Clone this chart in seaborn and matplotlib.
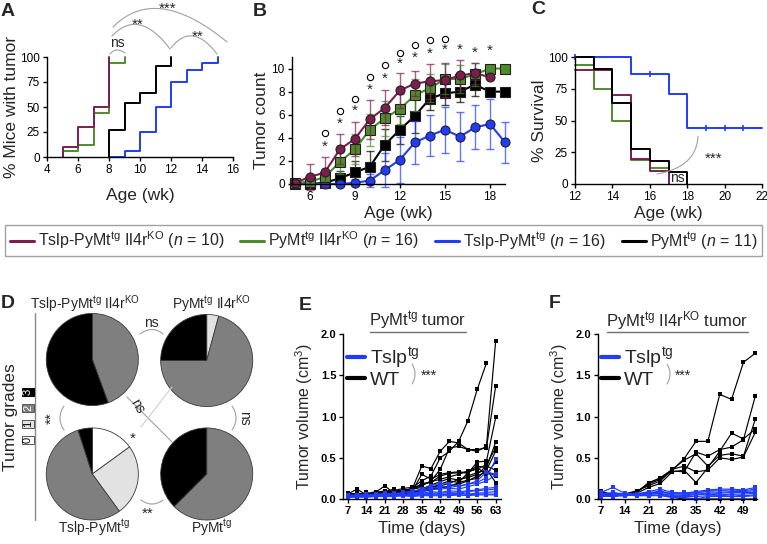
import numpy as np
import pandas as pd
import matplotlib
matplotlib.use("Agg")
import matplotlib.pyplot as plt
import seaborn as sns
from matplotlib.lines import Line2D

W, H = 767, 544

MAROON = "#7e1e4e"
GREEN = "#4d8c2a"
BLUE = "#1f3cff"
BLACK = "#000000"

# ---------------- data ----------------
# A: % mice with tumor (step curves)
a_x = {
    "maroon": [5, 5, 6, 7, 8],
    "green": [5, 5, 6, 7, 8, 9],
    "black": [8, 8, 9, 10, 11, 12],
    "blue": [8, 9, 10, 11, 12, 13, 14, 15],
}
a_y = {
    "maroon": [0, 10, 30, 50, 100],
    "green": [0, 6.25, 12.5, 43.75, 93.75, 100],
    "black": [0, 27.3, 54.5, 63.6, 90.9, 100],
    "blue": [0, 6.25, 25, 50, 75, 87.5, 93.75, 100],
}

# B: tumor count (mean +/- sem)
b_age = [5, 6, 7, 8, 9, 10, 11, 12, 13, 14, 15, 16, 17, 18, 19]
b_maroon = [0.1, 0.6, 1.0, 3.0, 3.9, 5.6, 6.6, 8.1, 8.7, 8.9, 9.0, 9.4, 9.6, 9.25, np.nan]
b_maroon_err = [np.nan, 1.1, 1.3, 1.3, 1.5, 1.7, 1.5, 1.5, 1.1, 1.5, 1.5, 1.3, 0.9, np.nan, np.nan]
b_green = [0.1, 0.2, 0.6, 1.9, 3.0, 4.7, 5.7, 6.5, 7.7, 8.3, 9.1, 9.1, 9.5, 10.0, 10.0]
b_green_err = [np.nan, 0.3, 0.6, 1.0, 1.3, 1.4, 1.5, 1.3, 1.4, 1.2, 1.3, 1.2, 1.0, np.nan, np.nan]
b_black = [0.0, 0.0, 0.1, 0.5, 1.0, 1.5, 3.4, 4.7, 5.9, 7.4, 7.85, 8.0, 8.6, 8.0, 8.0]
b_black_err = [np.nan, np.nan, 0.3, 0.6, 1.0, 1.4, 1.4, 1.2, 1.5, 1.0, 1.0, 0.9, 1.0, np.nan, np.nan]
b_blue = [0.0, 0.0, 0.0, 0.0, 0.1, 0.3, 1.2, 2.1, 3.6, 4.2, 4.7, 4.1, 4.9, 5.2, 3.6]
b_blue_err = [np.nan, np.nan, np.nan, np.nan, 0.3, 0.6, 1.5, 2.0, 1.9, 1.8, 2.0, 2.1, 1.9, 2.2, 1.8]
star_age = [7, 8, 9, 10, 11, 12, 13, 14, 15, 16, 17, 18]
star_y = [3.2, 5.2, 6.3, 8.2, 9.1, 10.4, 10.95, 11.3, 11.6, 11.6, 11.4, 11.5]
circ_age = [7, 8, 9, 10, 11, 12, 13, 14, 15]
circ_y = [4.4, 6.3, 7.4, 9.3, 10.3, 11.35, 12.0, 12.5, 12.6]

# C: survival (Kaplan-Meier steps)
c_x = {
    "maroon": [12, 14, 15, 16, 17],
    "green": [12, 13, 14, 15, 16, 17],
    "black": [12, 13, 14, 15, 16, 17, 18],
    "blue": [12, 15, 17, 18, 22],
}
c_y = {
    "maroon": [90, 70, 20, 10, 0],
    "green": [93.75, 75, 50, 18.75, 12.5, 0],
    "black": [100, 90.9, 63.6, 27.3, 18.2, 9.1, 0],
    "blue": [100, 86.7, 70.9, 44.4, 44.4],
}
c_censor_x = [12, 16, 19, 20, 21]
c_censor_y = [100, 86.7, 44.4, 44.4, 44.4]

# D: tumor grade fractions (grades 0,1,2,3)
pie_names = ["tslp_il4r", "pymt_il4r", "tslp", "pymt"]
pie_fracs = {
    "tslp_il4r": [0, 0, 44.4, 55.6],
    "pymt_il4r": [0, 4.2, 70.8, 25.0],
    "tslp": [15, 25, 55, 5],
    "pymt": [0, 0, 62.5, 37.5],
}
grade_colors = ["#ffffff", "#e2e2e2", "#7f7f7f", "#000000"]

# E: PyMt tumor volumes
days_e = [7, 10.5, 14, 17.5, 21, 24.5, 28, 31.5, 35, 38.5, 42, 45.5, 49, 52.5, 56, 59.5, 63]
wt_e = [
    [0.06, 0.12, 0.05, 0.08, 0.16, 0.07, 0.10, 0.13, 0.40, 0.37, 0.58, 0.70, 0.68, 0.60, 0.58, 0.64, 1.92],
    [0.04, 0.05, 0.06, 0.09, 0.08, 0.10, 0.13, 0.14, 0.22, 0.28, 0.50, 0.58, 0.70, 0.95, 1.33, 1.65, np.nan],
    [0.05, 0.04, 0.07, 0.06, 0.09, 0.12, 0.08, 0.12, 0.16, 0.22, 0.36, 0.62, 0.64, 0.60, 0.60, 0.62, 1.37],
    [0.07, 0.06, 0.05, 0.07, 0.10, 0.06, 0.12, 0.10, 0.30, 0.24, 0.30, 0.32, 0.33, 0.31, 0.45, 0.46, 0.99],
    [0.03, 0.05, 0.04, 0.06, 0.07, 0.08, 0.09, 0.11, 0.19, 0.20, 0.28, 0.31, 0.32, 0.33, 0.40, 0.38, 0.69],
    [0.05, 0.07, 0.06, 0.08, 0.06, 0.09, 0.07, 0.14, 0.17, 0.21, 0.24, 0.27, 0.30, 0.34, 0.36, 0.42, 0.62],
    [0.06, 0.04, 0.08, 0.05, 0.08, 0.07, 0.11, 0.09, 0.12, 0.17, 0.21, 0.25, 0.23, 0.28, 0.32, 0.35, 0.58],
    [0.04, 0.06, 0.05, 0.07, 0.09, 0.05, 0.08, 0.12, 0.14, 0.13, 0.18, 0.22, 0.20, 0.32, 0.38, 0.30, 0.45],
    [0.05, 0.03, 0.06, 0.04, 0.06, 0.07, 0.06, 0.09, 0.10, 0.15, 0.16, 0.19, 0.24, 0.26, 0.30, 0.40, 0.35],
    [0.03, 0.05, 0.04, 0.06, 0.05, 0.06, 0.08, 0.07, 0.09, 0.11, 0.13, 0.16, 0.18, 0.22, 0.28, 0.33, 0.28],
    [0.04, 0.06, 0.03, 0.05, 0.07, 0.05, 0.07, 0.08, 0.11, 0.12, 0.14, 0.15, 0.20, 0.23, 0.25, 0.36, 0.20],
]
tslp_e = [
    [0.05, 0.04, 0.06, 0.05, 0.07, 0.06, 0.08, 0.09, 0.12, 0.16, 0.19, 0.18, 0.15, 0.18, 0.20, 0.26, 0.48],
    [0.04, 0.05, 0.05, 0.06, 0.06, 0.07, 0.07, 0.10, 0.11, 0.13, 0.15, 0.14, 0.16, 0.18, 0.22, 0.33, 0.30],
    [0.03, 0.04, 0.05, 0.04, 0.06, 0.05, 0.08, 0.07, 0.09, 0.12, 0.12, 0.13, 0.12, 0.15, 0.18, 0.22, 0.29],
    [0.04, 0.03, 0.04, 0.05, 0.05, 0.06, 0.05, 0.06, 0.07, 0.09, 0.08, 0.10, 0.09, 0.10, 0.11, 0.13, 0.14],
    [0.03, 0.04, 0.03, 0.04, 0.05, 0.04, 0.05, 0.05, 0.06, 0.07, 0.07, 0.08, 0.07, 0.09, 0.10, 0.11, 0.12],
    [0.02, 0.03, 0.04, 0.03, 0.04, 0.05, 0.04, 0.05, 0.05, 0.06, 0.06, 0.06, 0.07, 0.06, 0.07, 0.08, 0.09],
    [0.03, 0.02, 0.03, 0.04, 0.03, 0.04, 0.04, 0.04, 0.05, 0.05, 0.05, 0.06, 0.05, 0.05, 0.06, 0.06, 0.06],
    [0.02, 0.03, 0.02, 0.03, 0.03, 0.03, 0.04, 0.03, 0.04, 0.04, 0.04, 0.04, 0.05, 0.04, 0.05, 0.05, 0.05],
]

# F: PyMt Il4rKO tumor volumes
days_f = [7, 10.5, 14, 17.5, 21, 24.5, 28, 31.5, 35, 38.5, 42, 45.5, 49, 52.5]
wt_f = [
    [0.10, 0.04, 0.06, 0.08, 0.20, 0.25, 0.35, 0.49, 0.70, 0.70, 1.27, 1.21, 1.66, 1.77],
    [0.06, 0.05, 0.05, 0.09, 0.18, 0.24, 0.34, 0.33, 0.57, 0.52, 0.60, 0.63, 0.72, 1.25],
    [0.04, 0.03, 0.06, 0.10, 0.16, 0.22, 0.36, 0.47, 0.55, 0.40, 0.53, 0.55, 0.52, 0.97],
    [0.05, 0.04, 0.05, 0.07, 0.14, 0.19, 0.33, 0.35, 0.20, 0.38, 0.58, 0.80, 0.73, 0.85],
    [0.08, 0.06, 0.05, 0.08, 0.19, 0.26, 0.36, 0.40, 0.33, 0.35, 0.50, 0.48, 0.51, 0.81],
    [0.07, 0.05, 0.04, 0.05, 0.08, 0.06, 0.02, 0.0, 0.0, 0.0, 0.0, 0.0, 0.0, 0.0],
]
tslp_f = [
    [0.08, 0.14, 0.07, 0.06, 0.09, 0.12, 0.08, 0.07, 0.09, 0.11, 0.12, 0.12, 0.11, 0.14],
    [0.06, 0.08, 0.06, 0.05, 0.07, 0.10, 0.06, 0.08, 0.07, 0.10, 0.10, 0.11, 0.10, 0.12],
    [0.05, 0.07, 0.05, 0.06, 0.08, 0.08, 0.07, 0.06, 0.08, 0.09, 0.08, 0.09, 0.09, 0.10],
    [0.04, 0.05, 0.04, 0.05, 0.06, 0.09, 0.05, 0.05, 0.06, 0.07, 0.07, 0.08, 0.08, 0.08],
    [0.07, 0.06, 0.05, 0.04, 0.05, 0.07, 0.04, 0.04, 0.05, 0.06, 0.05, 0.06, 0.06, 0.07],
    [0.03, 0.04, 0.05, 0.04, 0.04, 0.05, 0.03, 0.03, 0.03, 0.04, 0.04, 0.05, 0.04, 0.05],
    [0.05, 0.03, 0.04, 0.05, 0.04, 0.04, 0.02, 0.02, 0.0, 0.03, 0.03, 0.03, 0.03, 0.04],
]

colors = {"maroon": MAROON, "green": GREEN, "blue": BLUE, "black": BLACK}

# ---------------- style ----------------
sns.set_theme(style="ticks")
plt.rcParams["font.family"] = ["Liberation Sans", "DejaVu Sans"]
plt.rcParams["mathtext.fontset"] = "custom"
plt.rcParams["mathtext.rm"] = "Liberation Sans"
plt.rcParams["mathtext.it"] = "Liberation Sans:italic"
plt.rcParams["mathtext.bf"] = "Liberation Sans:bold"
plt.rcParams["axes.linewidth"] = 1.0

fig = plt.figure(figsize=(W / 100, H / 100), dpi=100)
fig.patch.set_facecolor("white")


def fx(x):
    return x / W


def fy(y):
    return 1 - y / H


def add_ax(l, t, r, b):
    return fig.add_axes([l / W, 1 - b / H, (r - l) / W, (b - t) / H])


def style_ax(ax, size=8.5, bold=False):
    sns.despine(ax=ax)
    for s in ["left", "bottom"]:
        ax.spines[s].set_color("black")
    ax.tick_params(direction="out", length=3, width=1, color="black",
                   labelsize=size, pad=2, labelcolor="black")
    if bold:
        for lab in ax.get_xticklabels() + ax.get_yticklabels():
            lab.set_fontweight("bold")


def ftext(x, y, s, **kw):
    kw.setdefault("ha", "center")
    kw.setdefault("va", "center")
    fig.text(fx(x), fy(y), s, **kw)


def arc(p0, peak, p2, color="#a0a0a0", lw=0.8):
    p0, peak, p2 = np.array(p0, float), np.array(peak, float), np.array(p2, float)
    ctrl = 2 * peak - 0.5 * (p0 + p2)
    t = np.linspace(0, 1, 40)[:, None]
    pts = (1 - t) ** 2 * p0 + 2 * (1 - t) * t * ctrl + t ** 2 * p2
    fig.add_artist(Line2D(pts[:, 0] / W, 1 - pts[:, 1] / H, transform=fig.transFigure,
                          color=color, lw=lw))


def fline(x0, y0, x1, y1, color="#a0a0a0", lw=0.8):
    fig.add_artist(Line2D([fx(x0), fx(x1)], [fy(y0), fy(y1)], transform=fig.transFigure,
                          color=color, lw=lw))


def step_df(xs, ys, order):
    rows = []
    for g in order:
        for i, (x, y) in enumerate(zip(xs[g], ys[g])):
            rows.append({"group": g, "x": x, "y": y, "i": i})
    return pd.DataFrame(rows)


# ---------------- A ----------------
axA = add_ax(47, 57, 233, 157)
dfA = step_df(a_x, a_y, ["blue", "black", "green", "maroon"])
sns.lineplot(data=dfA, x="x", y="y", hue="group", palette=colors, estimator=None,
             sort=False, drawstyle="steps-post", lw=1.4, legend=False, ax=axA, clip_on=False)
axA.set_xlim(4, 16)
axA.set_ylim(0, 100)
axA.set_xticks([4, 6, 8, 10, 12, 14, 16])
axA.set_yticks([0, 25, 50, 75, 100])
axA.set_xlabel("Age (wk)", fontsize=12.5, labelpad=9)
axA.set_ylabel("% Mice with tumor", fontsize=12.5, labelpad=1)
style_ax(axA)

arc((110, 54), (117, 50), (125, 53))
arc((112, 36), (140, 25), (170, 49))
arc((171, 48), (193, 36), (217, 54))
arc((113, 27), (163, 9), (227, 42))
ftext(117, 43, "ns", fontsize=10)
ftext(138, 25, "**", fontsize=11)
ftext(198, 37, "**", fontsize=11)
ftext(168, 9, "***", fontsize=11)

# ---------------- B ----------------
axB = add_ax(291.7, 57, 505, 184)
series_b = [("black", b_black, b_black_err, "s"), ("blue", b_blue, b_blue_err, "o"),
            ("green", b_green, b_green_err, "s"), ("maroon", b_maroon, b_maroon_err, "o")]
for g, vals, err, mk in series_b:
    axB.errorbar(b_age, vals, yerr=err, fmt="none", ecolor=colors[g], elinewidth=1.0,
                 capsize=3, capthick=1.0, alpha=0.7, clip_on=False)
    sns.lineplot(x=b_age, y=vals, color=colors[g], marker=mk, markersize=6.5,
                 markeredgecolor="#202020", markeredgewidth=0.8, lw=1.5, ax=axB, clip_on=False)
axB.set_xlim(4.8, 19)
axB.set_ylim(0, 11)
axB.set_xticks([6, 9, 12, 15, 18])
axB.set_yticks([0, 2, 4, 6, 8, 10])
axB.set_xlabel("Age (wk)", fontsize=12.5, labelpad=2)
axB.set_ylabel("Tumor count", fontsize=12.5, labelpad=2)
style_ax(axB)
for a, y in zip(star_age, star_y):
    axB.text(a, y, "*", ha="center", va="center", fontsize=11, clip_on=False)
axB.plot(circ_age, circ_y, ls="none", marker="o", ms=4.5, mfc="none", mec="black",
         mew=0.8, clip_on=False)

# ---------------- C ----------------
axC = add_ax(575, 57, 762, 184)
dfC = step_df(c_x, c_y, ["blue", "green", "maroon", "black"])
sns.lineplot(data=dfC, x="x", y="y", hue="group", palette=colors, estimator=None,
             sort=False, drawstyle="steps-post", lw=1.4, legend=False, ax=axC, clip_on=False)
axC.plot(c_censor_x, c_censor_y, ls="none", marker="|", ms=5, mew=1.2, color=BLUE, clip_on=False)
axC.set_xlim(12, 22)
axC.set_ylim(0, 100)
axC.set_xticks([12, 14, 16, 18, 20, 22])
axC.set_yticks([0, 25, 50, 75, 100])
axC.set_xlabel("Age (wk)", fontsize=12.5, labelpad=2)
axC.set_ylabel("% Survival", fontsize=12.5, labelpad=1)
style_ax(axC)
axC.text(17.5, 5, "ns", ha="center", va="center", fontsize=10)
arc((698, 136), (687, 161), (657, 174))
ftext(714, 159, "***", fontsize=11)

# ---------------- shared legend ----------------
legend_labels = [
    r"Tslp-PyMt$^{\mathrm{tg}}$ Il4r$^{\mathrm{KO}}$ ($\mathit{n}$ = 10)",
    r"PyMt$^{\mathrm{tg}}$ Il4r$^{\mathrm{KO}}$ ($\mathit{n}$ = 16)",
    r"Tslp-PyMt$^{\mathrm{tg}}$ ($\mathit{n}$ = 16)",
    r"PyMt$^{\mathrm{tg}}$ ($\mathit{n}$ = 11)",
]
handles = [Line2D([], [], color=colors[g], lw=2.2) for g in ["maroon", "green", "blue", "black"]]
leg = fig.legend(handles, legend_labels, ncol=4, loc="center",
                 bbox_to_anchor=(fx(383.5), fy(240.5)), fontsize=11.5, frameon=True,
                 fancybox=False, edgecolor="#8a8a8a", handlelength=1.5, handletextpad=0.25,
                 columnspacing=1.0, borderpad=0.32, borderaxespad=0)
leg.get_frame().set_linewidth(1.0)

# ---------------- D ----------------
pie_pos = {"tslp_il4r": (92.3, 359.5), "pymt_il4r": (206.7, 360.5),
           "tslp": (92.3, 474), "pymt": (206.7, 474)}
R = 46.5
for name in pie_names:
    cx, cy = pie_pos[name]
    ax = add_ax(cx - R, cy - R, cx + R, cy + R)
    fr = [f for f in pie_fracs[name] if f > 0]
    cl = [c for f, c in zip(pie_fracs[name], grade_colors) if f > 0]
    ax.pie(fr, colors=cl, startangle=90, counterclock=False,
           wedgeprops=dict(edgecolor="#3a3a3a", linewidth=0.6))
    ax.set_xlim(-1.01, 1.01)
    ax.set_ylim(-1.01, 1.01)
    ax.set_aspect("equal")
    ax.axis("off")

ftext(85, 304, r"Tslp-PyMt$^{\mathrm{tg}}$ Il4r$^{\mathrm{KO}}$", fontsize=10)
ftext(212, 304, r"PyMt$^{\mathrm{tg}}$ Il4r$^{\mathrm{KO}}$", fontsize=10)
ftext(94, 528, r"Tslp-PyMt$^{\mathrm{tg}}$", fontsize=10)
ftext(212, 528, r"PyMt$^{\mathrm{tg}}$", fontsize=10)

ftext(11, 417, "Tumor grades", fontsize=12.5, rotation=90)
fline(35, 313, 35, 520, color="#8a8a8a", lw=1.0)
for g, yy in zip(range(4), [440, 424, 408, 392]):
    tc = "white" if g >= 2 else "black"
    ec = "#555555" if g < 3 else "black"
    ftext(28, yy, str(g), fontsize=8, rotation=90, color=tc,
          bbox=dict(boxstyle="square,pad=0.1", fc=grade_colors[g], ec=ec, lw=0.7))

arc((140, 334), (152, 329.5), (163, 334))
ftext(151, 323, "ns", fontsize=10)
arc((64, 406), (60, 418), (64, 430))
ftext(52, 418, "**", fontsize=11, rotation=90)
arc((232, 406), (236, 418), (232, 430))
ftext(244, 418, "ns", fontsize=10, rotation=270)
arc((141, 500), (152, 504), (163, 500))
ftext(148, 514, "**", fontsize=11)
fline(127, 397, 172, 442, color="#a0a0a0")
fline(172, 387, 141, 427, color="#cfcfcf")
ftext(137, 406, "ns", fontsize=10, rotation=-60)
ftext(133, 439, "*", fontsize=11)


# ---------------- E / F ----------------
def long_df(days, wt, tslp):
    rows = []
    for gname, block in [("WT", wt), ("Tslp", tslp)]:
        for i, vals in enumerate(block):
            for d, v in zip(days, vals):
                rows.append({"group": gname, "mouse": f"{gname}{i}", "day": d, "vol": v})
    return pd.DataFrame(rows).dropna()


def volume_panel(ax, df, xlim, ticks, title, title_x, ul, leg_x):
    sns.lineplot(data=df, x="day", y="vol", hue="group", units="mouse", estimator=None,
                 hue_order=["WT", "Tslp"], palette={"WT": BLACK, "Tslp": BLUE},
                 marker="s", markersize=2.6, markeredgewidth=0, lw=0.85, legend=False,
                 ax=ax, clip_on=False)
    ax.set_xlim(*xlim)
    ax.set_ylim(0, 2)
    ax.set_xticks(ticks)
    ax.set_yticks([0, 0.5, 1.0, 1.5, 2.0])
    ax.set_yticklabels(["0.0", "0.5", "1.0", "1.5", "2.0"])
    ax.set_xlabel("Time (days)", fontsize=12, labelpad=4)
    ax.set_ylabel(r"Tumor volume (cm$^3$)", fontsize=11.5, labelpad=4)
    style_ax(ax, size=8, bold=True)
    ftext(title_x, 321, title, fontsize=12)
    fline(ul[0], 332, ul[1], 332, color="#707070", lw=1.0)
    h = [Line2D([], [], color=BLUE, lw=3), Line2D([], [], color=BLACK, lw=3)]
    ax.legend(h, [r"Tslp$^{\mathrm{tg}}$", "WT"], loc="upper left",
              bbox_to_anchor=(fx(leg_x), fy(345)), bbox_transform=fig.transFigure,
              frameon=False, fontsize=14, handlelength=0.9, handletextpad=0.3,
              labelspacing=0.05, borderpad=0, borderaxespad=0)


axE = add_ax(343.3, 334.3, 500.7, 499)
volume_panel(axE, long_df(days_e, wt_e, tslp_e), (5.3, 64.9),
             [7, 14, 21, 28, 35, 42, 49, 56, 63], r"PyMt$^{\mathrm{tg}}$ tumor", 418,
             (370, 466), 347)
arc((412, 364), (415, 374), (412, 384))
ftext(429, 376, "***", fontsize=10)

axF = add_ax(597.7, 334.3, 757, 499)
volume_panel(axF, long_df(days_f, wt_f, tslp_f), (6.0, 53.0),
             [7, 14, 21, 28, 35, 42, 49],
             r"PyMt$^{\mathrm{tg}}$ Il4r$^{\mathrm{KO}}$ tumor", 677, (607, 748), 601)
arc((667, 364), (670, 374), (667, 384))
ftext(683, 376, "***", fontsize=10)

# panel letters
for s, x, y in [("A", 8, 12), ("B", 260, 11), ("C", 538, 9), ("D", 8, 304),
                ("E", 305, 305), ("F", 555, 303)]:
    ftext(x, y, s, fontsize=14, fontweight="bold")

fig.savefig("out.png", dpi=100, facecolor="white")
